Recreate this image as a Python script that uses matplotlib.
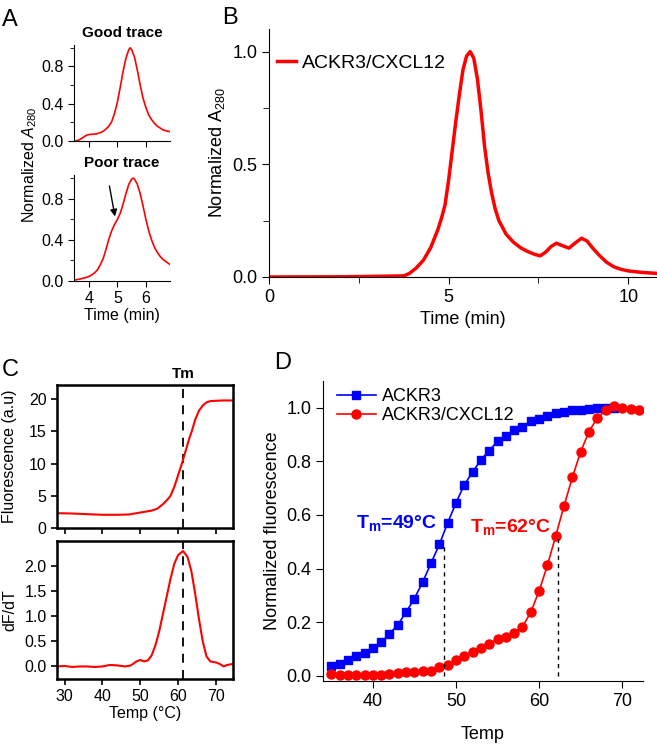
import matplotlib
matplotlib.use("Agg")
import matplotlib.pyplot as plt

plt.rcParams['font.family'] = ['Liberation Sans', 'DejaVu Sans']
plt.rcParams['mathtext.fontset'] = 'custom'
plt.rcParams['mathtext.rm'] = 'Liberation Sans'
plt.rcParams['mathtext.it'] = 'Liberation Sans:italic'
plt.rcParams['mathtext.bf'] = 'Liberation Sans:bold'

# panel A - good / poor SEC traces
good_t = [3.5, 3.6, 3.7, 3.8, 3.9, 4.0, 4.1, 4.2, 4.3, 4.4, 4.5, 4.6, 4.7, 4.8, 4.9, 5.0, 5.1,
          5.2, 5.3, 5.4, 5.45, 5.5, 5.6, 5.7, 5.8, 5.9, 6.0, 6.1, 6.2, 6.3, 6.4, 6.5, 6.6, 6.7, 6.85]
good_a = [0.0, 0.005, 0.02, 0.04, 0.06, 0.07, 0.072, 0.074, 0.08, 0.09, 0.105, 0.13, 0.16, 0.21,
          0.3, 0.42, 0.58, 0.75, 0.89, 0.98, 1.0, 0.98, 0.9, 0.76, 0.6, 0.46, 0.36, 0.28, 0.23,
          0.19, 0.16, 0.14, 0.12, 0.11, 0.10]
poor_t = [3.5, 3.7, 3.9, 4.0, 4.1, 4.2, 4.3, 4.4, 4.5, 4.6, 4.7, 4.8, 4.9, 5.0, 5.1, 5.2, 5.3,
          5.4, 5.5, 5.55, 5.6, 5.7, 5.8, 5.9, 6.0, 6.1, 6.2, 6.3, 6.4, 6.5, 6.6, 6.7, 6.85]
poor_a = [0.01, 0.02, 0.035, 0.045, 0.06, 0.08, 0.11, 0.16, 0.22, 0.31, 0.41, 0.49, 0.55, 0.6,
          0.66, 0.75, 0.85, 0.94, 0.99, 1.0, 0.99, 0.94, 0.85, 0.73, 0.6, 0.49, 0.4, 0.33, 0.28,
          0.24, 0.21, 0.19, 0.16]

# panel B - ACKR3/CXCL12 SEC
b_t = [0, 2, 3.0, 3.75, 3.9, 4.1, 4.3, 4.5, 4.7, 4.8, 4.9, 5.0, 5.1, 5.2, 5.3, 5.4, 5.5, 5.6,
       5.7, 5.8, 5.9, 6.0, 6.1, 6.2, 6.3, 6.4, 6.6, 6.8, 7.0, 7.2, 7.4, 7.55, 7.7, 7.85, 8.0,
       8.15, 8.35, 8.5, 8.7, 8.85, 9.0, 9.2, 9.4, 9.6, 9.8, 10.0, 10.4, 10.8]
b_a = [0.0, 0.001, 0.003, 0.005, 0.015, 0.04, 0.075, 0.13, 0.21, 0.26, 0.32, 0.43, 0.56, 0.69,
       0.81, 0.92, 0.98, 1.0, 0.97, 0.88, 0.74, 0.58, 0.46, 0.37, 0.3, 0.25, 0.19, 0.155, 0.13,
       0.113, 0.1, 0.094, 0.11, 0.135, 0.15, 0.14, 0.128, 0.148, 0.172, 0.16, 0.13, 0.095,
       0.065, 0.045, 0.034, 0.027, 0.02, 0.016]

# panel C - melt curve and derivative
c_temp = [28, 32, 36, 40, 44, 47, 49, 51, 53, 54.5, 56, 57, 58, 59, 60, 61, 62, 63, 63.6, 64.5,
          65.5, 66.5, 67.5, 68.5, 70, 72, 74.5]
c_fluor = [2.3, 2.25, 2.15, 2.05, 2.05, 2.1, 2.3, 2.5, 2.7, 3.0, 3.7, 4.3, 5.0, 6.4, 8.2, 10.0,
           12.0, 14.0, 15.0, 16.8, 18.2, 19.0, 19.5, 19.7, 19.75, 19.8, 19.8]
d_temp = [28, 30, 32, 34, 36, 38, 40, 42, 44, 46, 47.5, 49, 50, 51, 52, 53, 54, 55, 56, 57, 58,
          59, 60, 61.3, 62.5, 63.5, 64.5, 65.5, 66.5, 67.5, 68.5, 70, 71, 72, 73, 74.5]
d_dfdt = [0.0, 0.01, -0.01, 0.0, 0.0, -0.01, 0.0, 0.03, 0.02, 0.0, 0.02, 0.1, 0.13, 0.1, 0.12,
          0.22, 0.42, 0.7, 1.05, 1.4, 1.75, 2.05, 2.22, 2.3, 2.18, 1.9, 1.45, 0.95, 0.5, 0.2,
          0.1, 0.08, 0.05, 0.0, 0.03, 0.05]
tm_c = 61.3

# panel D - normalized melt curves
ackr3_temp = list(range(35, 70))
ackr3_val = [0.035, 0.045, 0.057, 0.072, 0.085, 0.104, 0.125, 0.156, 0.19, 0.237, 0.288, 0.35,
             0.42, 0.49, 0.57, 0.645, 0.713, 0.76, 0.806, 0.84, 0.875, 0.895, 0.916, 0.93, 0.95,
             0.96, 0.97, 0.98, 0.985, 0.99, 0.993, 0.996, 0.998, 1.0, 1.0]
cx_temp = list(range(35, 73))
cx_val = [0.006, 0.004, 0.003, 0.003, 0.003, 0.003, 0.004, 0.006, 0.009, 0.012, 0.015, 0.016,
          0.019, 0.032, 0.041, 0.057, 0.072, 0.087, 0.104, 0.12, 0.135, 0.145, 0.16, 0.182,
          0.237, 0.316, 0.412, 0.522, 0.634, 0.74, 0.836, 0.911, 0.962, 0.99, 1.006, 1.0,
          0.996, 0.99]
tm_ackr3 = 48.5
tm_ackr3_y = 0.49
tm_cx = 62.3
tm_cx_y = 0.52

W, H = 657, 750
fig = plt.figure(figsize=(W / 100, H / 100), dpi=100)


def box(l, t, r, b):
    return [l / W, 1 - b / H, (r - l) / W, (b - t) / H]


def open_axes(ax):
    ax.spines['top'].set_visible(False)
    ax.spines['right'].set_visible(False)
    ax.tick_params(direction='out')


# ---------- A ----------
axA1 = fig.add_axes(box(74, 45, 170, 141))
axA2 = fig.add_axes(box(74, 175, 170, 281))
for ax in (axA1, axA2):
    open_axes(ax)
    ax.set_xlim(3.47, 6.85)
    ax.set_ylim(0, 1.03)
    ax.set_yticks([0.0, 0.4, 0.8])
    ax.set_yticks([0.2, 0.6, 1.0], minor=True)
    ax.set_xticks([4, 5, 6])
    ax.tick_params(labelsize=11.5, length=4)
    ax.tick_params(which='minor', length=3)
axA1.plot(good_t, good_a, color='red', lw=1.2)
axA2.plot(poor_t, poor_a, color='red', lw=1.2)
axA1.set_xticklabels([])
axA1.set_title('Good trace', fontsize=11, fontweight='bold', pad=6)
axA2.set_title('Poor trace', fontsize=11, fontweight='bold', pad=6)
axA2.set_xlabel('Time (min)', fontsize=11.5, labelpad=1)
axA2.annotate('', xy=(4.93, 0.6), xytext=(4.7, 0.95),
              arrowprops=dict(arrowstyle='-|>', color='black', lw=1, mutation_scale=10))
fig.text(30 / W, 1 - 165 / H, r'Normalized $\mathit{A}_{280}$', rotation=90,
         ha='center', va='center', fontsize=11.5)
fig.text(10 / W, 1 - 20 / H, 'A', fontsize=17, ha='center', va='center')

# ---------- B ----------
axB = fig.add_axes(box(269, 29, 657, 277))
open_axes(axB)
axB.plot(b_t, b_a, color='red', lw=2.5, label='ACKR3/CXCL12')
axB.set_xlim(0, 10.8)
axB.set_ylim(0, 1.1)
axB.set_yticks([0.0, 0.5, 1.0])
axB.set_yticks([0.25, 0.75], minor=True)
axB.set_xticks([0, 5, 10])
axB.set_xticks([2.5, 7.5], minor=True)
axB.tick_params(labelsize=13, length=5)
axB.tick_params(which='minor', length=4)
axB.set_xlabel('Time (min)', fontsize=13)
axB.set_ylabel(r'Normalized A$_{280}$', fontsize=13, labelpad=4)
axB.legend(loc='upper left', bbox_to_anchor=(0.0, 0.93), frameon=False, fontsize=14,
           handlelength=1.0, handletextpad=0.3, borderaxespad=0)
fig.text(230 / W, 1 - 18 / H, 'B', fontsize=17, ha='center', va='center')

# ---------- C ----------
axC1 = fig.add_axes(box(57, 385, 233, 528))
axC2 = fig.add_axes(box(57, 541, 233, 679))
for ax in (axC1, axC2):
    for s in ax.spines.values():
        s.set_linewidth(1.8)
    ax.set_xlim(28, 74.5)
    ax.set_xticks([30, 40, 50, 60, 70])
    ax.tick_params(direction='out', labelsize=11.5, length=4, width=1.2, top=False, right=False)
    ax.axvline(tm_c, color='black', ls=(0, (5, 4)), lw=1.3)
axC1.plot(c_temp, c_fluor, color='red', lw=1.5)
axC1.set_ylim(0, 22.2)
axC1.set_yticks([0, 5, 10, 15, 20])
axC1.set_xticklabels([])
axC1.set_ylabel('Fluorescence (a.u)', fontsize=11.5)
axC1.text(tm_c, 1.03, 'Tm', transform=axC1.get_xaxis_transform(), ha='center', va='bottom',
          fontsize=11, fontweight='bold')
axC2.plot(d_temp, d_dfdt, color='red', lw=1.5)
axC2.set_ylim(-0.25, 2.5)
axC2.set_yticks([0.0, 0.5, 1.0, 1.5, 2.0])
axC2.set_ylabel('dF/dT', fontsize=11.5)
axC2.set_xlabel('Temp (°C)', fontsize=11.5, labelpad=1)
for ax in (axC1, axC2):
    ax.yaxis.set_label_coords(-40 / 176, 0.5)
fig.text(10 / W, 1 - 370 / H, 'C', fontsize=17, ha='center', va='center')

# ---------- D ----------
axD = fig.add_axes(box(323, 381, 643, 681))
open_axes(axD)
axD.plot(ackr3_temp, ackr3_val, color='blue', lw=1.2, marker='s', ms=5.5, label='ACKR3')
axD.plot(cx_temp, cx_val, color='red', lw=1.2, marker='o', ms=6.5, label='ACKR3/CXCL12')
axD.plot([tm_ackr3, tm_ackr3], [0, tm_ackr3_y], color='black', ls=(0, (3, 3)), lw=1)
axD.plot([tm_cx, tm_cx], [0, tm_cx_y], color='black', ls=(0, (3, 3)), lw=1)
axD.set_xlim(34, 72.5)
axD.set_ylim(-0.02, 1.1)
axD.set_xticks([40, 50, 60, 70])
axD.set_yticks([0.0, 0.2, 0.4, 0.6, 0.8, 1.0])
axD.tick_params(labelsize=13, length=5)
axD.set_xlabel('Temp', fontsize=13, labelpad=12)
axD.set_ylabel('Normalized fluorescence', fontsize=13)
axD.text(38, 0.57, r'T$_{\mathbf{m}}$=49°C', color='blue', fontsize=14, fontweight='bold',
         va='center')
axD.text(51.7, 0.555, r'T$_{\mathbf{m}}$=62°C', color='red', fontsize=14, fontweight='bold',
         va='center')
axD.legend(loc='upper left', bbox_to_anchor=(0.02, 1.0), frameon=False, fontsize=13,
           handlelength=2.2, handletextpad=0.3, borderaxespad=0, labelspacing=0.1)
fig.text(283 / W, 1 - 363 / H, 'D', fontsize=17, ha='center', va='center')

fig.savefig('out.png', dpi=100)
